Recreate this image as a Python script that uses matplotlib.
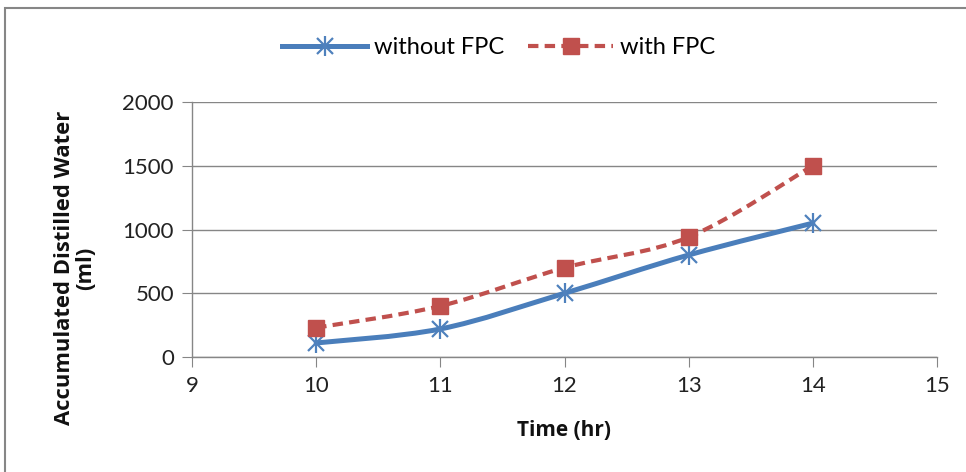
import matplotlib
matplotlib.use("Agg")
import matplotlib.pyplot as plt
from matplotlib.path import Path
from matplotlib.patches import PathPatch, Rectangle
from matplotlib.lines import Line2D
import numpy as np

plt.rcParams['font.family'] = ['Lato', 'DejaVu Sans']

time_hr = [10, 11, 12, 13, 14]
without_fpc = [110, 220, 500, 800, 1050]
with_fpc = [230, 400, 700, 940, 1500]
x_ticks = [9, 10, 11, 12, 13, 14, 15]
y_ticks = [0, 500, 1000, 1500, 2000]

BLUE = '#4A7EBB'
BLUE_M = '#4F81BD'
RED = '#C0504D'
DASH = (0, (2.5, 1.5))

fig = plt.figure(figsize=(9.66, 4.72), dpi=100)
W, H = 966, 472
ax = fig.add_axes([192 / W, 1 - 357 / H, (937 - 192) / W, (357 - 102) / H])

def smooth_path(xs, ys, t=1 / 6):
    xs = np.asarray(xs, float); ys = np.asarray(ys, float)
    verts = [(xs[0], ys[0])]
    codes = [Path.MOVETO]
    n = len(xs)
    for i in range(n - 1):
        p0 = (xs[max(i - 1, 0)], ys[max(i - 1, 0)])
        p1 = (xs[i], ys[i])
        p2 = (xs[i + 1], ys[i + 1])
        p3 = (xs[min(i + 2, n - 1)], ys[min(i + 2, n - 1)])
        c1 = (p1[0] + (p2[0] - p0[0]) * t, p1[1] + (p2[1] - p0[1]) * t)
        c2 = (p2[0] - (p3[0] - p1[0]) * t, p2[1] - (p3[1] - p1[1]) * t)
        verts += [c1, c2, p2]
        codes += [Path.CURVE4] * 3
    return Path(verts, codes)

ax.add_patch(PathPatch(smooth_path(time_hr, without_fpc), fill=False,
                       edgecolor=BLUE, lw=3.6, capstyle='round', zorder=3))
ax.add_patch(PathPatch(smooth_path(time_hr, with_fpc), fill=False,
                       edgecolor=RED, lw=3.0, linestyle=DASH, zorder=3))

ax.plot(time_hr, without_fpc, linestyle='none', marker='x', ms=12, mew=1.6,
        color=BLUE_M, zorder=4)
ax.plot(time_hr, without_fpc, linestyle='none', marker='|', ms=14, mew=1.6,
        color=BLUE_M, zorder=4)
ax.plot(time_hr, with_fpc, linestyle='none', marker='s', ms=11.5, color=RED,
        mec=RED, zorder=5)

ax.set_xlim(9, 15)
ax.set_ylim(0, 2000)
ax.set_xticks(x_ticks)
ax.set_yticks(y_ticks)
ax.tick_params(axis='both', labelsize=16, color='#868686', length=7,
               direction='out', labelcolor='#222222')
ax.tick_params(axis='x', pad=7)
ax.tick_params(axis='y', pad=6)
ax.grid(axis='y', color='#868686', lw=1.0)
ax.set_axisbelow(True)
for s in ['top', 'right']:
    ax.spines[s].set_visible(False)
for s in ['left', 'bottom']:
    ax.spines[s].set_color('#868686')
    ax.spines[s].set_linewidth(1.0)

fig.text(564 / W, 1 - 431 / H, 'Time (hr)', fontsize=15, fontweight='bold',
         family=['Open Sans', 'DejaVu Sans'], ha='center', va='center',
         color='#111111')
fig.text(75 / W, 1 - 268 / H, 'Accumulated Distilled Water\n(ml)',
         fontsize=15.8, fontweight='bold', family=['Open Sans', 'DejaVu Sans'],
         rotation=90, ha='center', va='center', multialignment='center',
         linespacing=1.05, color='#111111')

h1 = (Line2D([], [], color=BLUE, lw=3.6, marker='x', ms=12, mew=1.6,
             mec=BLUE_M),
      Line2D([], [], color=BLUE, lw=0, marker='|', ms=14, mew=1.6, mec=BLUE_M))
h2 = Line2D([], [], color=RED, lw=3.0, linestyle=DASH, marker='s',
            ms=11.5, mec=RED)
fig.legend([h1, h2], ['without FPC', 'with FPC'], loc='center',
           bbox_to_anchor=(499 / W, 1 - 48 / H), ncol=2, frameon=False,
           fontsize=17, handlelength=3.6, columnspacing=1.0, handletextpad=0.3)

fig.add_artist(Rectangle((5 / W, -0.1), 1.2, 1 - 8 / H + 0.1,
                         transform=fig.transFigure, fill=False,
                         edgecolor='#868686', lw=1.5))

fig.savefig('out.png', dpi=100)
